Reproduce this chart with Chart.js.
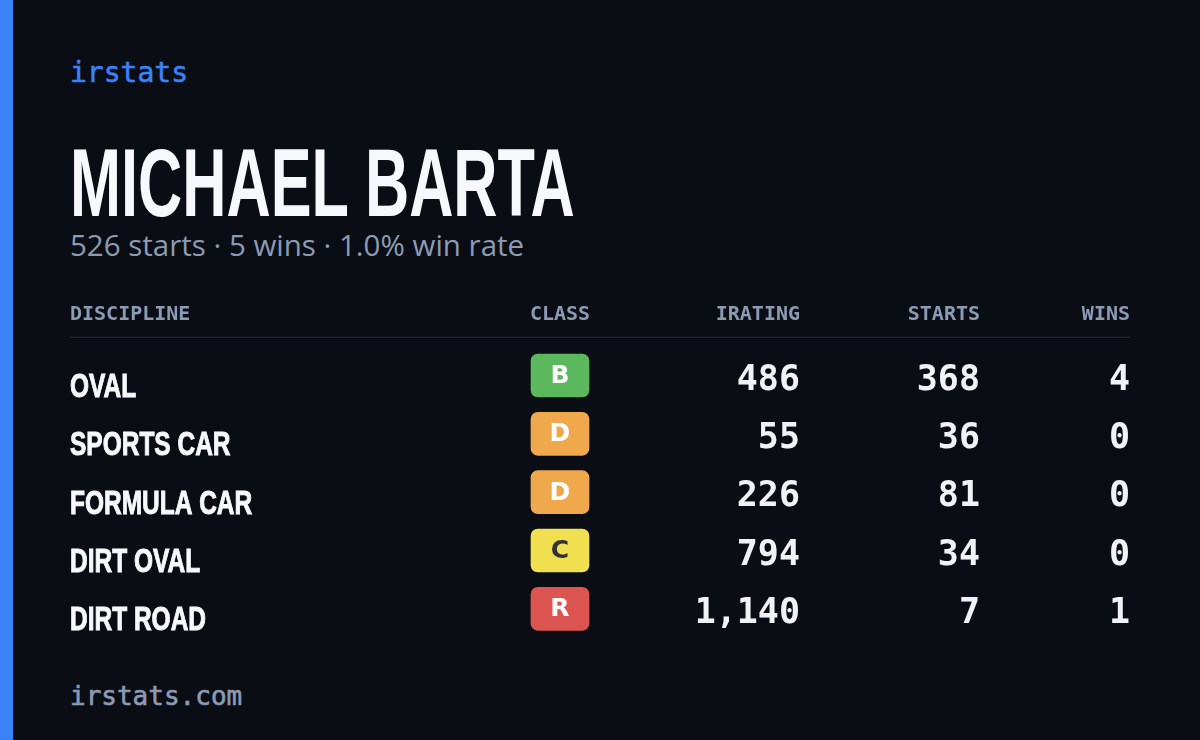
<!DOCTYPE html>
<html><head><meta charset="utf-8">
<script src="https://cdn.jsdelivr.net/npm/chart.js@4/dist/chart.umd.min.js"></script>
<style>
html,body{margin:0;padding:0;width:1200px;height:740px;background:#0a0d14;overflow:hidden}
#bar{position:absolute;left:0;top:0;width:13px;height:740px;background:#3b82f6}
.t{position:absolute;white-space:nowrap}
#brand{left:70px;top:56px;font:28px "DejaVu Sans Mono",monospace;color:#3b82f6;-webkit-text-stroke:0.6px #3b82f6}
#name{left:70px;top:128px;font:bold 96px "Liberation Sans",sans-serif;color:#f6f8fb;transform-origin:left top;transform:scaleX(0.638)}
#sub{left:70px;top:224px;font:29.5px "Open Sans",sans-serif;color:#8c9bb5}
#foot{left:70px;top:681px;font:26px "DejaVu Sans Mono",monospace;color:#8c9bb5;-webkit-text-stroke:0.6px #8c9bb5}
#wrap{position:absolute;left:70px;top:288px;width:1060px;height:350px}
</style></head><body>
<div id="bar"></div>
<div class="t" id="brand">irstats</div>
<div class="t" id="name">MICHAEL BARTA</div>
<div class="t" id="sub">526 starts · 5 wins · 1.0% win rate</div>
<div class="t" id="foot">irstats.com</div>
<div id="wrap"><canvas id="c" width="1060" height="350"></canvas></div>
<script>
const columns = ['DISCIPLINE','CLASS','IRATING','STARTS','WINS'];
const disciplines = ['OVAL','SPORTS CAR','FORMULA CAR','DIRT OVAL','DIRT ROAD'];
const classes = ['B','D','D','C','R'];
const iratings = [486,55,226,794,1140];
const starts = [368,36,81,34,7];
const wins = [4,0,0,0,1];
const classColors = {B:'#5cb85c',C:'#f0e050',D:'#f0a84c',R:'#dc5550'};
const classText = {B:'#ffffff',C:'#333333',D:'#ffffff',R:'#ffffff'};

const colX = [0,490,730,910,1060];
const colAlign = ['left','center','right','right','right'];
const rows = ['', ...disciplines];

const tablePlugin = {
  id:'tbl',
  afterDatasetsDraw(chart){
    const {ctx, scales:{x,y}} = chart;
    ctx.save();
    ctx.textBaseline='middle';
    ctx.font='bold 20px "DejaVu Sans Mono", monospace';
    ctx.fillStyle='#8c9bb5';
    const hy = y.getPixelForValue(0)-2;
    columns.forEach((c,i)=>{ctx.textAlign=colAlign[i];ctx.fillText(c,x.getPixelForValue(colX[i]),hy);});
    ctx.strokeStyle='#1c2330';ctx.lineWidth=1.5;
    ctx.beginPath();ctx.moveTo(x.getPixelForValue(0),hy+22);ctx.lineTo(x.getPixelForValue(1060),hy+22);ctx.stroke();
    disciplines.forEach((d,i)=>{
      const py = y.getPixelForValue(i+1);
      ctx.save();
      ctx.textAlign='left';
      ctx.font='bold 34px "Liberation Sans",sans-serif';
      ctx.fillStyle='#f6f8fb';
      ctx.strokeStyle='#f6f8fb';ctx.lineWidth=1;
      ctx.translate(x.getPixelForValue(colX[0]),py+12);
      ctx.scale(0.72,1);
      ctx.fillText(d,0,0);
      ctx.strokeText(d,0,0);
      ctx.restore();
      ctx.textAlign='center';
      ctx.font='bold 25px "DejaVu Sans",sans-serif';
      ctx.fillStyle=classText[classes[i]];
      ctx.fillText(classes[i],x.getPixelForValue(colX[1]),py+1);
      ctx.textAlign='right';
      ctx.font='bold 35px "DejaVu Sans Mono",monospace';
      ctx.fillStyle='#f0f2f5';
      ctx.fillText(iratings[i].toLocaleString('en-US'),x.getPixelForValue(colX[2]),py+5);
      ctx.fillText(String(starts[i]),x.getPixelForValue(colX[3]),py+5);
      ctx.fillText(String(wins[i]),x.getPixelForValue(colX[4]),py+5);
    });
    ctx.restore();
  }
};

new Chart(document.getElementById('c'),{
  type:'bar',
  data:{labels:rows,datasets:[{
    data:[null,...classes.map(()=>[colX[1]-29,colX[1]+29])],
    backgroundColor:['transparent',...classes.map(c=>classColors[c])],
    borderRadius:7,borderSkipped:false,barThickness:43
  }]},
  options:{
    indexAxis:'y',responsive:false,animation:false,
    layout:{padding:0},
    plugins:{legend:{display:false},tooltip:{enabled:false}},
    scales:{
      x:{type:'linear',min:0,max:1060,display:false},
      y:{type:'category',display:false,offset:true}
    }
  },
  plugins:[tablePlugin]
});
</script>
</body></html>
